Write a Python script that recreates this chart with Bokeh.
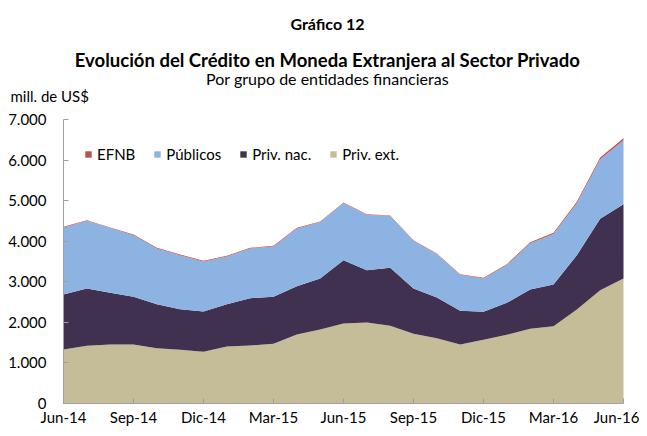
from bokeh.plotting import figure
from bokeh.models import Range1d, Legend, LegendItem, FixedTicker, ColumnDataSource
from bokeh.core.properties import value
from bokeh.embed import file_html
from bokeh.resources import INLINE

months = ["Jun-14","Jul-14","Ago-14","Sep-14","Oct-14","Nov-14","Dic-14","Ene-15","Feb-15","Mar-15",
          "Abr-15","May-15","Jun-15","Jul-15","Ago-15","Sep-15","Oct-15","Nov-15","Dic-15","Ene-16",
          "Feb-16","Mar-16","Abr-16","May-16","Jun-16"]
priv_ext = [1331,1421,1454,1454,1364,1323,1273,1405,1430,1471,1701,1824,1972,1996,1914,1717,1610,1454,1569,1693,1840,1906,2317,2793,3081]
priv_nac = [1356,1414,1274,1175,1084,1002,995,1043,1166,1158,1191,1257,1561,1290,1430,1118,1003,830,690,788,970,1027,1339,1759,1832]
publicos = [1653,1669,1595,1521,1374,1332,1233,1177,1226,1242,1423,1390,1406,1366,1275,1176,1069,889,823,933,1142,1244,1280,1467,1577]
efnb = [15,15,15,15,15,15,15,15,15,15,15,15,15,15,15,15,15,15,15,20,25,30,35,45,50]

tick_months = ["Jun-14","Sep-14","Dic-14","Mar-15","Jun-15","Sep-15","Dic-15","Mar-16","Jun-16"]
y_ticks = [0,1000,2000,3000,4000,5000,6000,7000]
y_tick_labels = ["0","1.000","2.000","3.000","4.000","5.000","6.000","7.000"]

suptitle = "Gráfico 12"
title = "Evolución del Crédito en Moneda Extranjera al Sector Privado"
subtitle = "Por grupo de entidades financieras"
unit_label = "mill. de US$"

FONT = "Lato"
W, H = 639, 428
# plotting area in pixels (inside the canvas)
AX_L, AX_R, AX_T, AX_B = 63, 623, 119, 403
YMAX = y_ticks[-1]
NX = len(months) - 1

px_per_x = (AX_R - AX_L) / NX
px_per_y = (AX_B - AX_T) / YMAX

def dx(px):
    return (px - AX_L) / px_per_x

def dy(py):
    return (AX_B - py) / px_per_y

p = figure(width=W, height=H, output_backend="svg", toolbar_location=None,
           x_range=Range1d(dx(0), dx(W)), y_range=Range1d(dy(H), dy(0)),
           min_border_left=0, min_border_right=0, min_border_top=0, min_border_bottom=0)
p.frame_width = W
p.frame_height = H
p.outline_line_color = None
p.grid.visible = False

idx = list(range(len(months)))
src = ColumnDataSource(dict(x=idx, ext=priv_ext, nac=priv_nac, pub=publicos, efnb=efnb))
colors = ["#C4BD97", "#403151", "#8DB3E2", "#C0504D"]
rs = p.varea_stack(["ext", "nac", "pub", "efnb"], x="x", color=colors, source=src)

legend = Legend(items=[LegendItem(label="EFNB", renderers=[rs[3]]),
                       LegendItem(label="Públicos", renderers=[rs[2]]),
                       LegendItem(label="Priv. nac.", renderers=[rs[1]]),
                       LegendItem(label="Priv. ext.", renderers=[rs[0]])],
                orientation="horizontal", location=(AX_L + 21, 240 + (H - AX_B)))
legend.border_line_color = None
legend.background_fill_alpha = 0
legend.padding = 0
legend.margin = 0
legend.spacing = 18
legend.glyph_width = 8
legend.glyph_height = 8
legend.label_standoff = 5
legend.label_text_font = FONT
legend.label_text_font_size = "15px"
legend.label_text_color = "black"
p.add_layout(legend, "center")

tick_pos = [months.index(m) for m in tick_months]
p.xaxis.ticker = FixedTicker(ticks=tick_pos)
p.xaxis.major_label_overrides = {i: m for i, m in zip(tick_pos, tick_months)}
p.xaxis.bounds = (0, NX)
p.xaxis.fixed_location = 0
p.yaxis.ticker = FixedTicker(ticks=y_ticks)
p.yaxis.major_label_overrides = {v: l for v, l in zip(y_ticks, y_tick_labels)}
p.yaxis.bounds = (0, YMAX)
p.yaxis.fixed_location = 0
for ax in (p.xaxis, p.yaxis):
    ax.axis_line_color = "#A0A0A0"
    ax.major_tick_line_color = "#A0A0A0"
    ax.major_tick_in = 5
    ax.major_tick_out = 0
    ax.minor_tick_line_color = None
    ax.major_label_text_font = FONT
    ax.major_label_text_font_size = "15px"
    ax.major_label_text_color = "black"
p.xaxis.major_label_standoff = 4
p.yaxis.major_label_standoff = 17

CX = 327
p.text(x=[dx(CX)], y=[dy(23)], text=[suptitle], text_font=value(FONT), text_font_size="16px",
       text_font_style="bold", text_align="center", text_baseline="middle", text_color="black")
p.text(x=[dx(CX)], y=[dy(59)], text=[title], text_font=value(FONT), text_font_size="18.5px",
       text_font_style="bold", text_align="center", text_baseline="middle", text_color="black")
p.text(x=[dx(CX)], y=[dy(78)], text=[subtitle], text_font=value(FONT), text_font_size="16px",
       text_align="center", text_baseline="middle", text_color="black")
p.text(x=[dx(10)], y=[dy(95)], text=[unit_label], text_font=value(FONT), text_font_size="15px",
       text_align="left", text_baseline="middle", text_color="black")

open("out.html", "w").write(file_html(p, INLINE))
